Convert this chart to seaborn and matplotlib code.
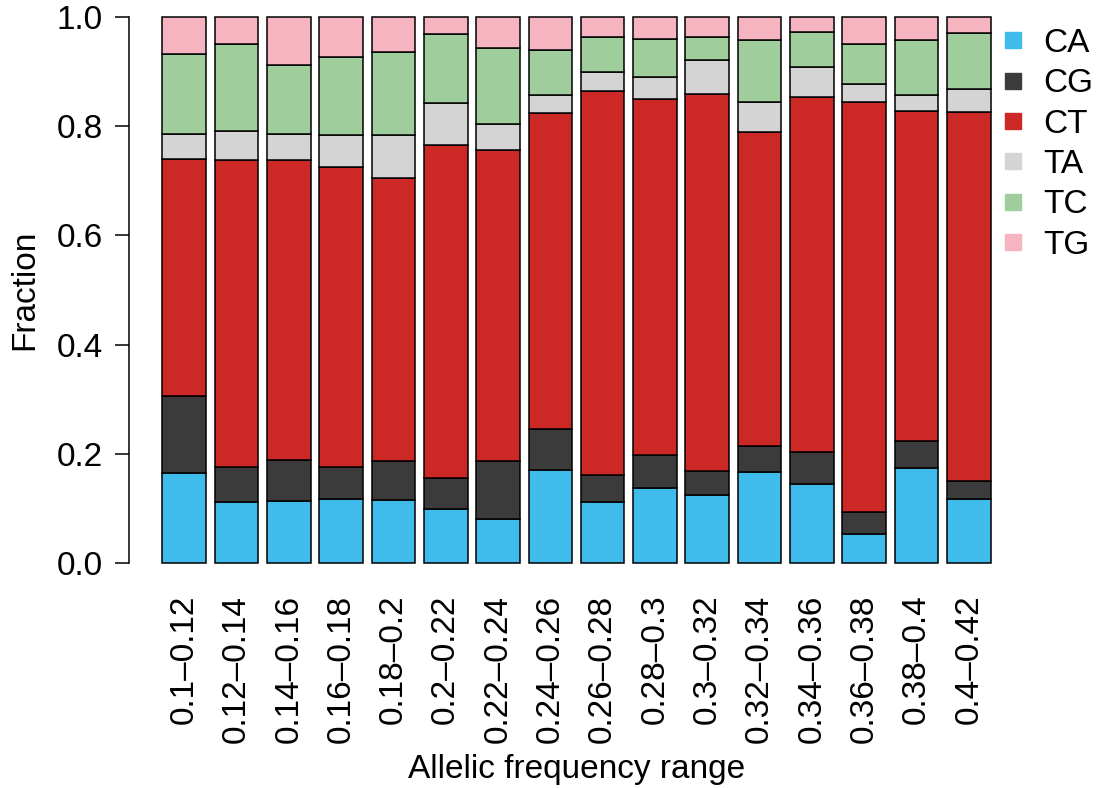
import numpy as np
import pandas as pd
import seaborn as sns
import matplotlib
matplotlib.use("Agg")
import matplotlib.pyplot as plt
from matplotlib.lines import Line2D

# Allelic-frequency bins
ranges = ["0.1–0.12", "0.12–0.14", "0.14–0.16", "0.16–0.18", "0.18–0.2",
          "0.2–0.22", "0.22–0.24", "0.24–0.26", "0.26–0.28", "0.28–0.3",
          "0.3–0.32", "0.32–0.34", "0.34–0.36", "0.36–0.38", "0.38–0.4",
          "0.4–0.42"]

# Fraction of each substitution type per bin
CA = [0.165, 0.112, 0.114, 0.118, 0.115, 0.099, 0.081, 0.171, 0.112, 0.137,
      0.125, 0.167, 0.144, 0.054, 0.174, 0.118]
CG = [0.141, 0.063, 0.075, 0.057, 0.072, 0.057, 0.105, 0.074, 0.050, 0.060,
      0.044, 0.047, 0.059, 0.039, 0.050, 0.032]
CT = [0.434, 0.564, 0.549, 0.550, 0.519, 0.609, 0.570, 0.580, 0.702, 0.652,
      0.690, 0.575, 0.651, 0.751, 0.603, 0.676]
TA = [0.046, 0.053, 0.047, 0.059, 0.077, 0.078, 0.048, 0.032, 0.035, 0.041,
      0.063, 0.055, 0.054, 0.033, 0.030, 0.042]
TC = [0.146, 0.158, 0.127, 0.143, 0.152, 0.126, 0.140, 0.083, 0.065, 0.070,
      0.042, 0.113, 0.065, 0.074, 0.100, 0.102]
TG = [0.068, 0.050, 0.088, 0.073, 0.065, 0.031, 0.056, 0.060, 0.036, 0.040,
      0.036, 0.043, 0.027, 0.049, 0.043, 0.030]

types = ["CA", "CG", "CT", "TA", "TC", "TG"]
colors = ["#3FBBEC", "#3B3B3B", "#CC2926", "#D4D4D4", "#9FCD9C", "#F6B4C1"]

df = pd.DataFrame({"range": ranges, "CA": CA, "CG": CG, "CT": CT,
                   "TA": TA, "TC": TC, "TG": TG})

sns.set_theme(style="white")
plt.rcParams["font.family"] = ["Liberation Sans", "DejaVu Sans"]
plt.rcParams["text.color"] = "black"
plt.rcParams["axes.labelcolor"] = "black"
plt.rcParams["xtick.color"] = "black"
plt.rcParams["ytick.color"] = "black"
FS = 24

W, H = 1099, 788
fig = plt.figure(figsize=(W / 100, H / 100), dpi=100)
ax_left, ax_right = 129.2, 1023.8
y0_px, y1_px = 563.0, 17.0
per = (y0_px - y1_px)
ylo, yhi = -0.04, 1.04
bottom_px = y0_px + (0 - ylo) * per
top_px = y1_px - (yhi - 1) * per
ax = fig.add_axes([ax_left / W, 1 - bottom_px / H,
                   (ax_right - ax_left) / W, (bottom_px - top_px) / H])

base = np.zeros(len(ranges))
for t, c in zip(types, colors):
    sns.barplot(data=df, x="range", y=t, order=ranges, color=c,
                width=1 / 1.2, bottom=base.copy(), edgecolor="black",
                linewidth=1.1, saturation=1, ax=ax, errorbar=None)
    base = base + df[t].to_numpy()

ax.set_xlim(-1.05, 16.05)
ax.set_ylim(ylo, yhi)
for s in ["top", "right", "bottom"]:
    ax.spines[s].set_visible(False)
ax.spines["left"].set_bounds(0, 1)
ax.spines["left"].set_linewidth(1.1)
ax.spines["left"].set_color("black")

ax.set_yticks([0, 0.2, 0.4, 0.6, 0.8, 1.0])
ax.set_yticklabels(["0.0", "0.2", "0.4", "0.6", "0.8", "1.0"])
ax.tick_params(axis="y", left=True, length=10, width=1.1, color="black",
               pad=9, labelsize=FS)
ax.tick_params(axis="x", bottom=False, length=0, pad=7, labelsize=FS)
for lbl in ax.get_xticklabels():
    lbl.set_rotation(90)
    lbl.set_ha("center")
    lbl.set_va("top")

ax.set_xlabel("Allelic frequency range", fontsize=FS, labelpad=8)
ax.set_ylabel("Fraction", fontsize=FS, labelpad=12)

handles = [Line2D([0], [0], marker="s", linestyle="none", markersize=11,
                  markerfacecolor=c, markeredgecolor=c) for c in colors]
fig.legend(handles, types, loc="upper left",
           bbox_to_anchor=(1000 / W, 1 - 28 / H), frameon=False,
           fontsize=FS, handlelength=0.8, handletextpad=0.49,
           labelspacing=0.28, borderaxespad=0, borderpad=0)

fig.savefig("out.png", dpi=100)
